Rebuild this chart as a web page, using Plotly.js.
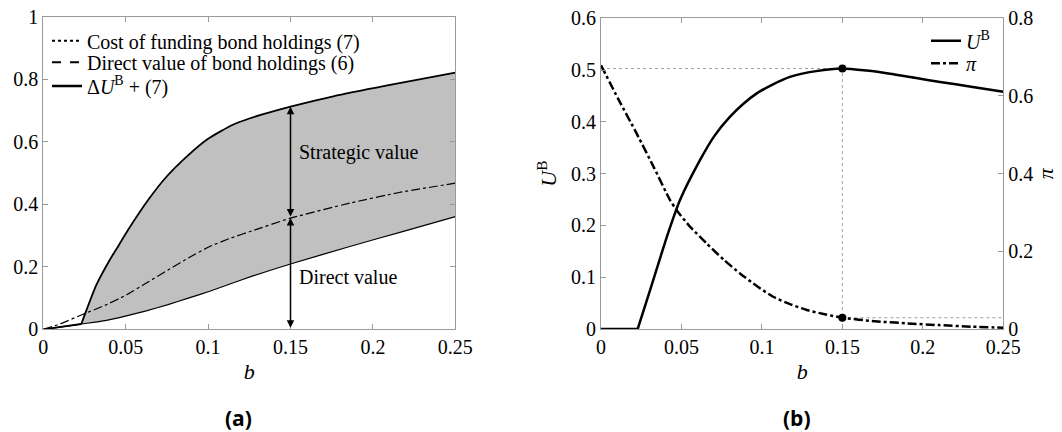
<!DOCTYPE html>
<html>
<head>
<meta charset="utf-8">
<script src="https://cdn.plot.ly/plotly-3.0.1.min.js"></script>
<style>
html,body{margin:0;padding:0;background:#fff;}
#chart{width:1062px;height:432px;}
</style>
</head>
<body>
<div id="chart"></div>
<script>
// ---------- Panel (a) data ----------
var bCost = [0, 0.01, 0.0231, 0.0375, 0.0504, 0.0625, 0.0757, 0.0875, 0.101, 0.1137, 0.1272, 0.15, 0.186, 0.218, 0.25];
var costFunding = [0, 0.007, 0.017, 0.028, 0.043, 0.059, 0.079, 0.099, 0.122, 0.146, 0.171, 0.209, 0.265, 0.313, 0.361];

var bUpper = [0, 0.01, 0.0231, 0.0251, 0.0322, 0.0403, 0.0445, 0.0514, 0.0636, 0.075, 0.087, 0.1, 0.115, 0.125, 0.133, 0.15, 0.176, 0.208, 0.25];
var deltaUPlusCost = [0, 0.007, 0.017, 0.046, 0.142, 0.222, 0.258, 0.318, 0.414, 0.49, 0.553, 0.61, 0.655, 0.675, 0.688, 0.713, 0.746, 0.780, 0.822];

var bDirect = [0, 0.01, 0.0231, 0.0375, 0.0504, 0.0625, 0.0757, 0.0885, 0.101, 0.1137, 0.1272, 0.15, 0.186, 0.216, 0.25];
var directValue = [0, 0.017, 0.046, 0.077, 0.110, 0.148, 0.19, 0.23, 0.265, 0.292, 0.316, 0.356, 0.404, 0.438, 0.468];

var legendA = ['Cost of funding bond holdings (7)', 'Direct value of bond holdings (6)', '\u0394<i>U</i><sup>B</sup> + (7)'];
var labelStrategic = 'Strategic value';
var labelDirect = 'Direct value';
var bMark = 0.15;

// ---------- Panel (b) data ----------
var bU = [0, 0.0228, 0.0305, 0.0418, 0.0491, 0.0615, 0.0705, 0.0802, 0.0885, 0.0968, 0.1072, 0.1174, 0.1337, 0.15, 0.165, 0.1796, 0.195, 0.2107, 0.23, 0.25];
var UB = [0, 0, 0.0752, 0.186, 0.249, 0.326, 0.373, 0.41, 0.435, 0.455, 0.473, 0.487, 0.498, 0.503, 0.499, 0.493, 0.485, 0.477, 0.468, 0.458];

var bPi = [0, 0.011, 0.0222, 0.033, 0.0429, 0.047, 0.055, 0.0657, 0.0764, 0.0864, 0.097, 0.107, 0.1175, 0.1278, 0.139, 0.15, 0.17, 0.19, 0.21, 0.23, 0.25];
var piVals = [0.679, 0.59, 0.503, 0.415, 0.332, 0.306, 0.265, 0.220, 0.178, 0.143, 0.110, 0.083, 0.064, 0.049, 0.038, 0.029, 0.02, 0.0146, 0.01, 0.006, 0.0034];

var bStar = 0.15;
var legendB = ['<i>U</i><sup>B</sup>', '<i>\u03c0</i>'];

// ---------- Tick labels ----------
var xTickVals = [0, 0.05, 0.1, 0.15, 0.2, 0.25];
var xTickText = ['0', '0.05', '0.1', '0.15', '0.2', '0.25'];
var yATickVals = [0, 0.2, 0.4, 0.6, 0.8, 1];
var yATickText = ['0', '0.2', '0.4', '0.6', '0.8', '1'];
var yBTickVals = [0, 0.1, 0.2, 0.3, 0.4, 0.5, 0.6];
var yBTickText = ['0', '0.1', '0.2', '0.3', '0.4', '0.5', '0.6'];
var yPiTickVals = [0, 0.2, 0.4, 0.6, 0.8];
var yPiTickText = ['0', '0.2', '0.4', '0.6', '0.8'];

// ---------- helpers ----------
function valAt(xs, ys, x) {
  for (var i = 0; i < xs.length - 1; i++) {
    if (x >= xs[i] && x <= xs[i + 1]) {
      var t = (x - xs[i]) / (xs[i + 1] - xs[i]);
      return ys[i] + t * (ys[i + 1] - ys[i]);
    }
  }
  return ys[ys.length - 1];
}

var SERIF = 'Liberation Serif, DejaVu Serif, serif';
var AX = '#9a9a9a';
var W = 1062, H = 432;

var kinkA = 2;   // index where the strategic component starts (panel a)
var kinkB = 1;   // index where U^B leaves zero (panel b)

var directAtMark = valAt(bDirect, directValue, bMark);
var upperAtMark = valAt(bUpper, deltaUPlusCost, bMark);
var uStar = valAt(bU, UB, bStar);
var piStar = valAt(bPi, piVals, bStar);

var traces = [
  {x: bCost, y: costFunding, type: 'scatter', mode: 'lines', xaxis: 'x', yaxis: 'y',
   line: {color: '#000', width: 1.2, shape: 'spline', smoothing: 0.5}, showlegend: false, hoverinfo: 'skip'},
  {x: bUpper.slice(kinkA), y: deltaUPlusCost.slice(kinkA), type: 'scatter', mode: 'lines', xaxis: 'x', yaxis: 'y',
   fill: 'tonexty', fillcolor: '#c0c0c0',
   line: {color: '#000', width: 1.8, shape: 'spline', smoothing: 0.6}, showlegend: false, hoverinfo: 'skip'},
  {x: bUpper.slice(0, kinkA + 1), y: deltaUPlusCost.slice(0, kinkA + 1), type: 'scatter', mode: 'lines', xaxis: 'x', yaxis: 'y',
   line: {color: '#000', width: 1.8}, showlegend: false, hoverinfo: 'skip'},
  {x: bDirect, y: directValue, type: 'scatter', mode: 'lines', xaxis: 'x', yaxis: 'y',
   line: {color: '#000', width: 1.2, dash: 'dashdot', shape: 'spline', smoothing: 0.5}, showlegend: false, hoverinfo: 'skip'},
  {x: [null], y: [null], type: 'scatter', mode: 'lines', xaxis: 'x', yaxis: 'y', name: legendA[0],
   line: {color: '#000', width: 2, dash: 'dot'}, legend: 'legend'},
  {x: [null], y: [null], type: 'scatter', mode: 'lines', xaxis: 'x', yaxis: 'y', name: legendA[1],
   line: {color: '#000', width: 2, dash: 'dash'}, legend: 'legend2'},
  {x: [null], y: [null], type: 'scatter', mode: 'lines', xaxis: 'x', yaxis: 'y', name: legendA[2],
   line: {color: '#000', width: 2.5}, legend: 'legend3'},
  {x: [0, bStar, bStar], y: [uStar, uStar, 0], type: 'scatter', mode: 'lines', xaxis: 'x2', yaxis: 'y2',
   line: {color: '#888', width: 0.8, dash: 'dot'}, showlegend: false, hoverinfo: 'skip'},
  {x: [bStar, 0.25], y: [piStar, piStar], type: 'scatter', mode: 'lines', xaxis: 'x2', yaxis: 'y3',
   line: {color: '#888', width: 0.8, dash: 'dot'}, showlegend: false, hoverinfo: 'skip'},
  {x: bU.slice(0, kinkB + 1), y: UB.slice(0, kinkB + 1), type: 'scatter', mode: 'lines', xaxis: 'x2', yaxis: 'y2',
   line: {color: '#000', width: 2.5}, showlegend: false, cliponaxis: false, hoverinfo: 'skip'},
  {x: bU.slice(kinkB), y: UB.slice(kinkB), type: 'scatter', mode: 'lines', xaxis: 'x2', yaxis: 'y2', name: legendB[0],
   line: {color: '#000', width: 2.5, shape: 'spline', smoothing: 0.6}, legend: 'legend4', cliponaxis: false},
  {x: bPi, y: piVals, type: 'scatter', mode: 'lines', xaxis: 'x2', yaxis: 'y3', name: legendB[1],
   line: {color: '#000', width: 2.5, dash: 'dashdot', shape: 'spline', smoothing: 0.6}, legend: 'legend5'},
  {x: [bStar], y: [uStar], type: 'scatter', mode: 'markers', xaxis: 'x2', yaxis: 'y2',
   marker: {color: '#000', size: 8}, showlegend: false, hoverinfo: 'skip'},
  {x: [bStar], y: [piStar], type: 'scatter', mode: 'markers', xaxis: 'x2', yaxis: 'y3',
   marker: {color: '#000', size: 8}, showlegend: false, hoverinfo: 'skip'}
];

function axisBase() {
  return {
    showline: true, linecolor: AX, linewidth: 1,
    ticks: 'inside', ticklen: 5, tickcolor: AX, tickwidth: 1,
    showgrid: false, zeroline: false,
    tickfont: {family: SERIF, size: 20, color: '#000'},
    tickmode: 'array', automargin: false
  };
}

var xa = axisBase();
Object.assign(xa, {domain: [43.3 / W, 455.3 / W], range: [0, 0.25], anchor: 'y', mirror: 'ticks',
  tickvals: xTickVals, ticktext: xTickText,
  title: {text: '<i>b</i>', font: {family: SERIF, size: 22, color: '#000'}, standoff: 6}});
var ya = axisBase();
Object.assign(ya, {domain: [1 - 329.3 / H, 1 - 17 / H], range: [0, 1], anchor: 'x', mirror: 'ticks',
  tickvals: yATickVals, ticktext: yATickText});
var xb = axisBase();
Object.assign(xb, {domain: [601 / W, 1003.3 / W], range: [0, 0.25], anchor: 'y2', mirror: 'ticks',
  tickvals: xTickVals, ticktext: xTickText,
  title: {text: '<i>b</i>', font: {family: SERIF, size: 22, color: '#000'}, standoff: 6}});
var yb = axisBase();
Object.assign(yb, {domain: [1 - 329 / H, 1 - 18.3 / H], range: [0, 0.6], anchor: 'x2',
  tickvals: yBTickVals, ticktext: yBTickText,
  title: {text: '<i>U</i><sup>B</sup>', font: {family: SERIF, size: 22, color: '#000'}, standoff: 8}});
var yc = axisBase();
Object.assign(yc, {range: [0, 0.8], anchor: 'x2', overlaying: 'y2', side: 'right',
  tickvals: yPiTickVals, ticktext: yPiTickText,
  title: {text: '<i>\u03c0</i>', font: {family: SERIF, size: 22, color: '#000'}, standoff: 4}});

function legendAt(xpx, ypx) {
  return {x: xpx / W, y: 1 - ypx / H, xanchor: 'left', yanchor: 'middle',
    bgcolor: 'rgba(0,0,0,0)', borderwidth: 0,
    font: {family: SERIF, size: 20, color: '#000'}};
}

var layout = {
  width: W, height: H,
  margin: {l: 0, r: 0, t: 0, b: 0, pad: 0},
  paper_bgcolor: '#fff', plot_bgcolor: '#fff',
  font: {family: SERIF, size: 20, color: '#000'},
  xaxis: xa, yaxis: ya, xaxis2: xb, yaxis2: yb, yaxis3: yc,
  legend: legendAt(47, 40.7),
  legend2: legendAt(47, 62.3),
  legend3: legendAt(47, 86),
  legend4: legendAt(926, 40.7),
  legend5: legendAt(926, 63.3),
  annotations: [
    {x: bMark, y: directAtMark, ax: bMark, ay: 0, xref: 'x', yref: 'y', axref: 'x', ayref: 'y',
     text: '', showarrow: true, arrowside: 'end+start', arrowhead: 2, startarrowhead: 2,
     arrowwidth: 1.5, arrowsize: 1, startarrowsize: 1, arrowcolor: '#000', standoff: 0, startstandoff: 0},
    {x: bMark, y: upperAtMark, ax: bMark, ay: directAtMark, xref: 'x', yref: 'y', axref: 'x', ayref: 'y',
     text: '', showarrow: true, arrowside: 'end+start', arrowhead: 2, startarrowhead: 2,
     arrowwidth: 1.5, arrowsize: 1, startarrowsize: 1, arrowcolor: '#000', standoff: 0, startstandoff: 0},
    {x: 0.154, y: 0.565, xref: 'x', yref: 'y', text: labelStrategic, showarrow: false,
     xanchor: 'left', yanchor: 'middle', font: {family: SERIF, size: 20, color: '#000'}},
    {x: 0.154, y: 0.168, xref: 'x', yref: 'y', text: labelDirect, showarrow: false,
     xanchor: 'left', yanchor: 'middle', font: {family: SERIF, size: 20, color: '#000'}},
    {x: 238 / W, y: 1 - 418 / H, xref: 'paper', yref: 'paper', text: '<b>(a)</b>', showarrow: false,
     xanchor: 'center', yanchor: 'middle', font: {family: 'Open Sans', size: 21, color: '#000'}},
    {x: 797 / W, y: 1 - 418 / H, xref: 'paper', yref: 'paper', text: '<b>(b)</b>', showarrow: false,
     xanchor: 'center', yanchor: 'middle', font: {family: 'Open Sans', size: 21, color: '#000'}}
  ]
};

Plotly.newPlot('chart', traces, layout, {displayModeBar: false, staticPlot: true});
</script>
</body>
</html>
